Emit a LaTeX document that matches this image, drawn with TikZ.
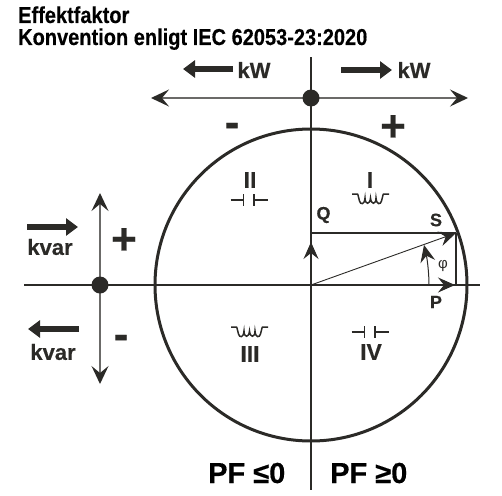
\documentclass[tikz,border=0pt]{standalone}
\usepackage{fontspec}
\setmainfont{Liberation Sans}[BoldFeatures={FakeBold=0.35}]
\usetikzlibrary{arrows.meta}
\definecolor{ink}{HTML}{2B2A27}
\newcommand{\fsz}[1]{\fontsize{#1}{#1}\selectfont\bfseries}
\newcommand{\indsym}{\draw[symline] (-18.5,0) -- (-13,0) .. controls (-12,1) and (-12,5) .. (-11,7)
  .. controls (-10,11) and (-6,11) .. (-5.5,4) .. controls (-5.5,11) and (-0.5,11) .. (0,4)
  .. controls (0.5,11) and (5.5,11) .. (5.5,4) .. controls (6,11) and (10,11) .. (11,7)
  .. controls (12,5) and (12,1) .. (13,0) -- (18.5,0);}
\newcommand{\capsym}{\draw[symline] (-18.5,0) -- (-5.5,0) (-5.5,-6) -- (-5.5,6) (5,-6) -- (5,6) (5,0) -- (18.5,0);}
\tikzset{
  axis/.style={draw=ink,line width=1.4pt},
  graxis/.style={draw=ink!70,line width=1.5pt,{Stealth[length=18pt,width=17pt,inset=7pt,color=ink]}-{Stealth[length=18pt,width=17pt,inset=7pt,color=ink]}},
  dotn/.style={circle,fill=ink,inner sep=0pt,minimum size=17pt},
  fat/.style={draw=ink,line width=6pt,-{Triangle[length=12pt,width=17pt,color=ink]}},
  vec/.style={draw=ink,line width=1.1pt},
  head/.style={-{Stealth[length=17pt,width=15pt,inset=6pt,color=ink]}},
  symline/.style={draw=ink,line width=1.5pt},
  lab/.style={text=ink,font=\fsz{22},inner sep=0pt},
  small/.style={text=ink,font=\fsz{18},inner sep=0pt},
  sign/.style={text=ink,font=\fsz{44},inner sep=0pt},
  roman/.style={text=ink,font=\fsz{23},inner sep=0pt},
  pf/.style={text=black,font=\fsz{29},inner sep=0pt,anchor=base west},
  ttl/.style={text=black,font=\fsz{23},inner sep=0pt,anchor=base west,xscale=0.87,transform shape}
}
\begin{document}
\begin{tikzpicture}[x=1pt,y=-1pt]
\useasboundingbox (0,0) rectangle (502,495);
\coordinate (O) at (311,285);
\coordinate (axT) at (311,57);
\coordinate (axB) at (311,490);
\coordinate (axL) at (24,285);
\coordinate (axR) at (480,285);
\coordinate (kwL) at (151,98);
\coordinate (kwR) at (468,98);
\coordinate (kvT) at (100,193);
\coordinate (kvB) at (100,384);
\coordinate (S) at (456,233);
\coordinate (Pp) at (456,285);
\coordinate (Qp) at (311,233);
\coordinate (Qt) at (311,242);
\coordinate (Pt) at (455,285);
\coordinate (ph0) at (429,285);
\coordinate (ph1) at (424,245);

\draw[draw=ink,line width=3pt] (O) circle (156);
\draw[axis] (axT) -- (axB);
\draw[axis] (axL) -- (axR);
\draw[graxis] (kwL) -- (kwR);
\draw[graxis] (kvT) -- (kvB);
\node[dotn] (dT) at (311,98) {};
\node[dotn] (dL) at (100,285) {};

\draw[vec] (Qp) -- (S);
\draw[vec] (S) -- (Pp);
\draw[vec,head,line width=0.9pt] (O) -- (S);
\draw[vec,head] (Qp |- O) -- (Qt);
\draw[vec,head] (O) -- (Pt);
\draw[vec,head,line width=1pt] (ph0) .. controls (429,272) and (427,258) .. (ph1);

\coordinate (a1) at (233,69); \coordinate (a2) at (183,69);
\coordinate (b1) at (341,70); \coordinate (b2) at (392,70);
\coordinate (c1) at (27,227); \coordinate (c2) at (78,227);
\coordinate (d1) at (79,329); \coordinate (d2) at (28,329);
\draw[fat] (a1) -- (a2);
\draw[fat] (b1) -- (b2);
\draw[fat] (c1) -- (c2);
\draw[fat] (d1) -- (d2);

\node[ttl] (t1) at (18,23) {Effektfaktor};
\node[ttl] (t2) at (18,45) {Konvention enligt IEC 62053-23:2020};

\node[lab] (kw1) at (254,70) {kW};
\node[lab] (kw2) at (414,70) {kW};
\node[lab] (kv1) at (50,247) {kvar};
\node[lab] (kv2) at (53,352) {kvar};
\node[sign] (s1) at (393,128) {+};
\node[sign] (s2) at (232,130) {-};
\node[sign] (s3) at (124,241) {+};
\node[sign] (s4) at (121,342) {-};

\node[roman] (r1) at (370,180) {I};
\node[roman] (r2) at (250,180) {II};
\node[roman] (r3) at (250,354) {III};
\node[roman] (r4) at (371,352) {IV};

\begin{scope}[shift={(370.5,194)}]\indsym\end{scope}
\begin{scope}[shift={(249.5,327)}]\indsym\end{scope}
\begin{scope}[shift={(249,200)}]\capsym\end{scope}
\begin{scope}[shift={(370,332)}]\capsym\end{scope}

\node[small] (q) at (323.5,215) {Q};
\node[small] (sl) at (436,220) {S};
\node[small] (pl) at (436,302) {P};
\node[text=ink,inner sep=0pt,font=\fontsize{15}{15}\selectfont] (phi) at (443,266) {φ};

\node[pf] (pf1) at (208,483) {PF ≤0};
\node[pf] (pf2) at (330,483) {PF ≥0};
\end{tikzpicture}
\end{document}
